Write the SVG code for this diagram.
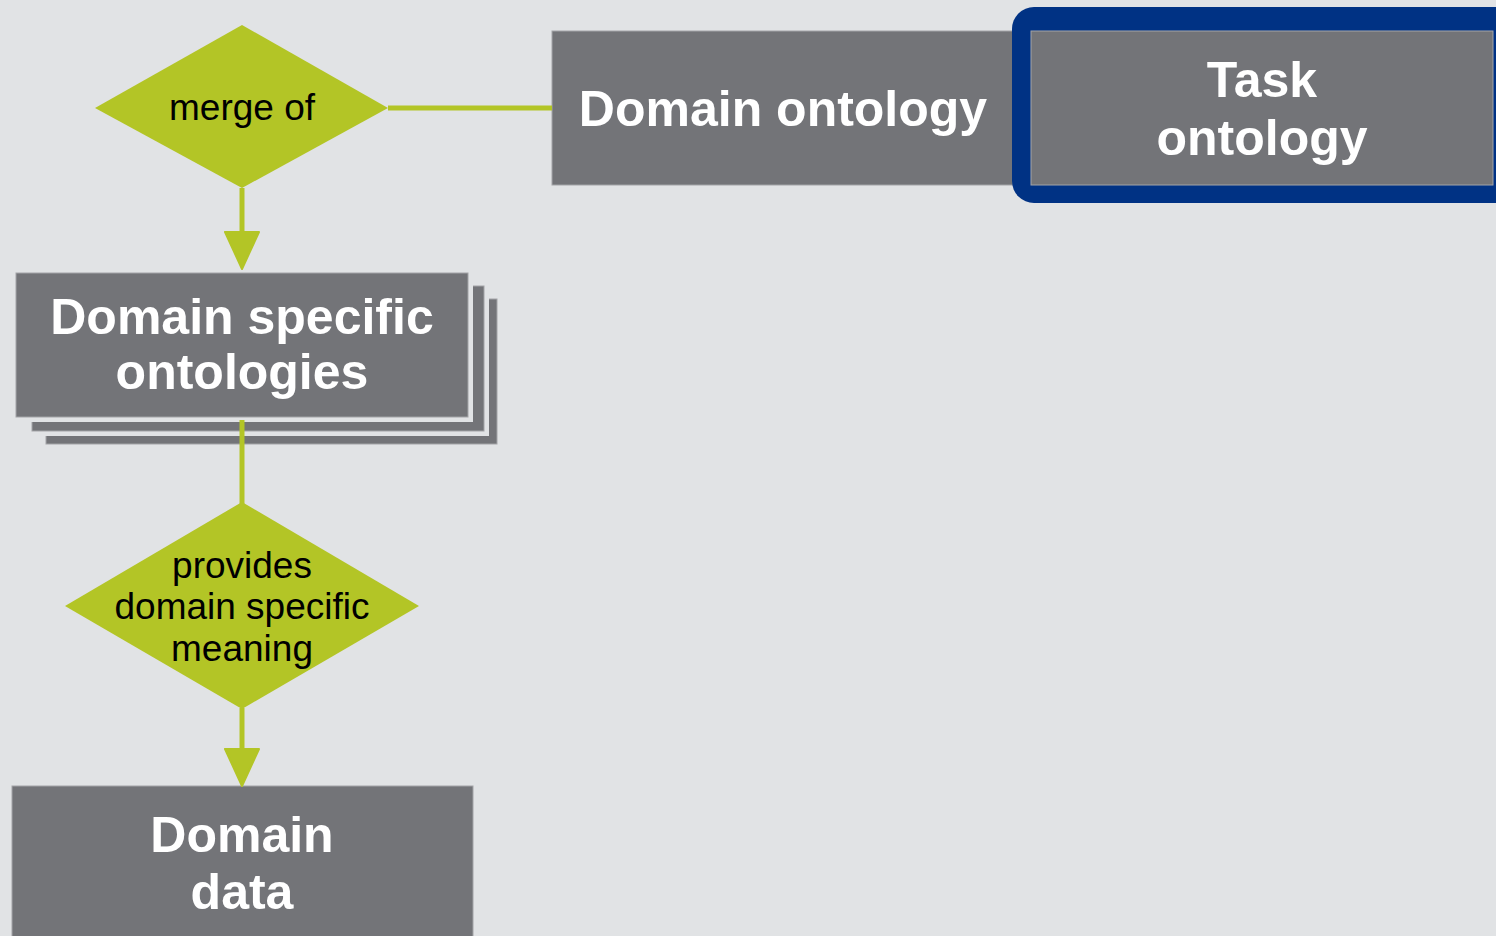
<svg xmlns="http://www.w3.org/2000/svg" width="1496" height="936" viewBox="0 0 1496 936">
  <defs>
    <style>
      .box { fill: #737478; stroke: #a3a4a7; stroke-width: 1; }
      .gap { fill: #e1e3e5; }
      .dec { fill: #b3c526; }
      .link { stroke: #b3c526; stroke-width: 5; fill: none; }
      .head { fill: #b3c526; stroke: #b3c526; stroke-width: 2; stroke-linejoin: round; }
      .big { font-family: "Liberation Sans", Arial, sans-serif; font-weight: bold; font-size: 50px; fill: #ffffff; text-anchor: middle; }
      .small { font-family: "Liberation Sans", Arial, sans-serif; font-size: 37px; fill: #000000; text-anchor: middle; }
    </style>
  </defs>

  <rect x="0" y="0" width="1496" height="936" fill="#e1e3e5"/>

  <!-- merge of -->
  <g id="merge-of">
    <polygon class="dec" points="242,25 388,108 242,188 95,108"/>
    <text class="small" x="242" y="120">merge of</text>
  </g>

  <!-- Domain ontology -->
  <g id="domain-ontology">
    <rect class="box" x="552" y="31" width="461" height="154"/>
    <text class="big" x="783" y="126">Domain ontology</text>
  </g>

  <!-- Task ontology (highlighted) -->
  <g id="task-ontology">
    <rect x="1012" y="7" width="520" height="196" rx="22" fill="#003284"/>
    <rect class="box" x="1031" y="31" width="462" height="154"/>
    <text class="big" x="1262" y="97">Task</text>
    <text class="big" x="1262" y="155">ontology</text>
  </g>

  <!-- Domain specific ontologies (stacked sheets, each with a thin gap) -->
  <g id="domain-specific-ontologies">
    <rect class="box" x="46" y="299" width="451" height="145"/>
    <rect class="gap" x="32" y="286" width="457" height="150"/>
    <rect class="box" x="32" y="286" width="452" height="145"/>
    <rect class="gap" x="16" y="273" width="457" height="149"/>
    <rect class="box" x="16" y="273" width="452" height="144"/>
    <text class="big" x="242" y="334">Domain specific</text>
    <text class="big" x="242" y="389">ontologies</text>
  </g>

  <!-- provides domain specific meaning -->
  <g id="provides-meaning">
    <polygon class="dec" points="242,502 419,606 242,709 65,606"/>
    <text class="small" x="242" y="578">provides</text>
    <text class="small" x="242" y="619">domain specific</text>
    <text class="small" x="242" y="661">meaning</text>
  </g>

  <!-- Domain data -->
  <g id="domain-data">
    <rect class="box" x="12" y="786" width="461" height="170"/>
    <text class="big" x="242" y="852">Domain</text>
    <text class="big" x="242" y="909">data</text>
  </g>

  <!-- connectors, drawn over the stacked sheets -->
  <g id="connectors">
    <line class="link" x1="388" y1="108" x2="552" y2="108"/>
    <line class="link" x1="242" y1="188" x2="242" y2="233"/>
    <polygon class="head" points="225,232 259,232 242,269"/>
    <line class="link" x1="242" y1="420" x2="242" y2="505"/>
    <line class="link" x1="242" y1="708" x2="242" y2="749"/>
    <polygon class="head" points="225,749 259,749 242,786"/>
  </g>
</svg>
